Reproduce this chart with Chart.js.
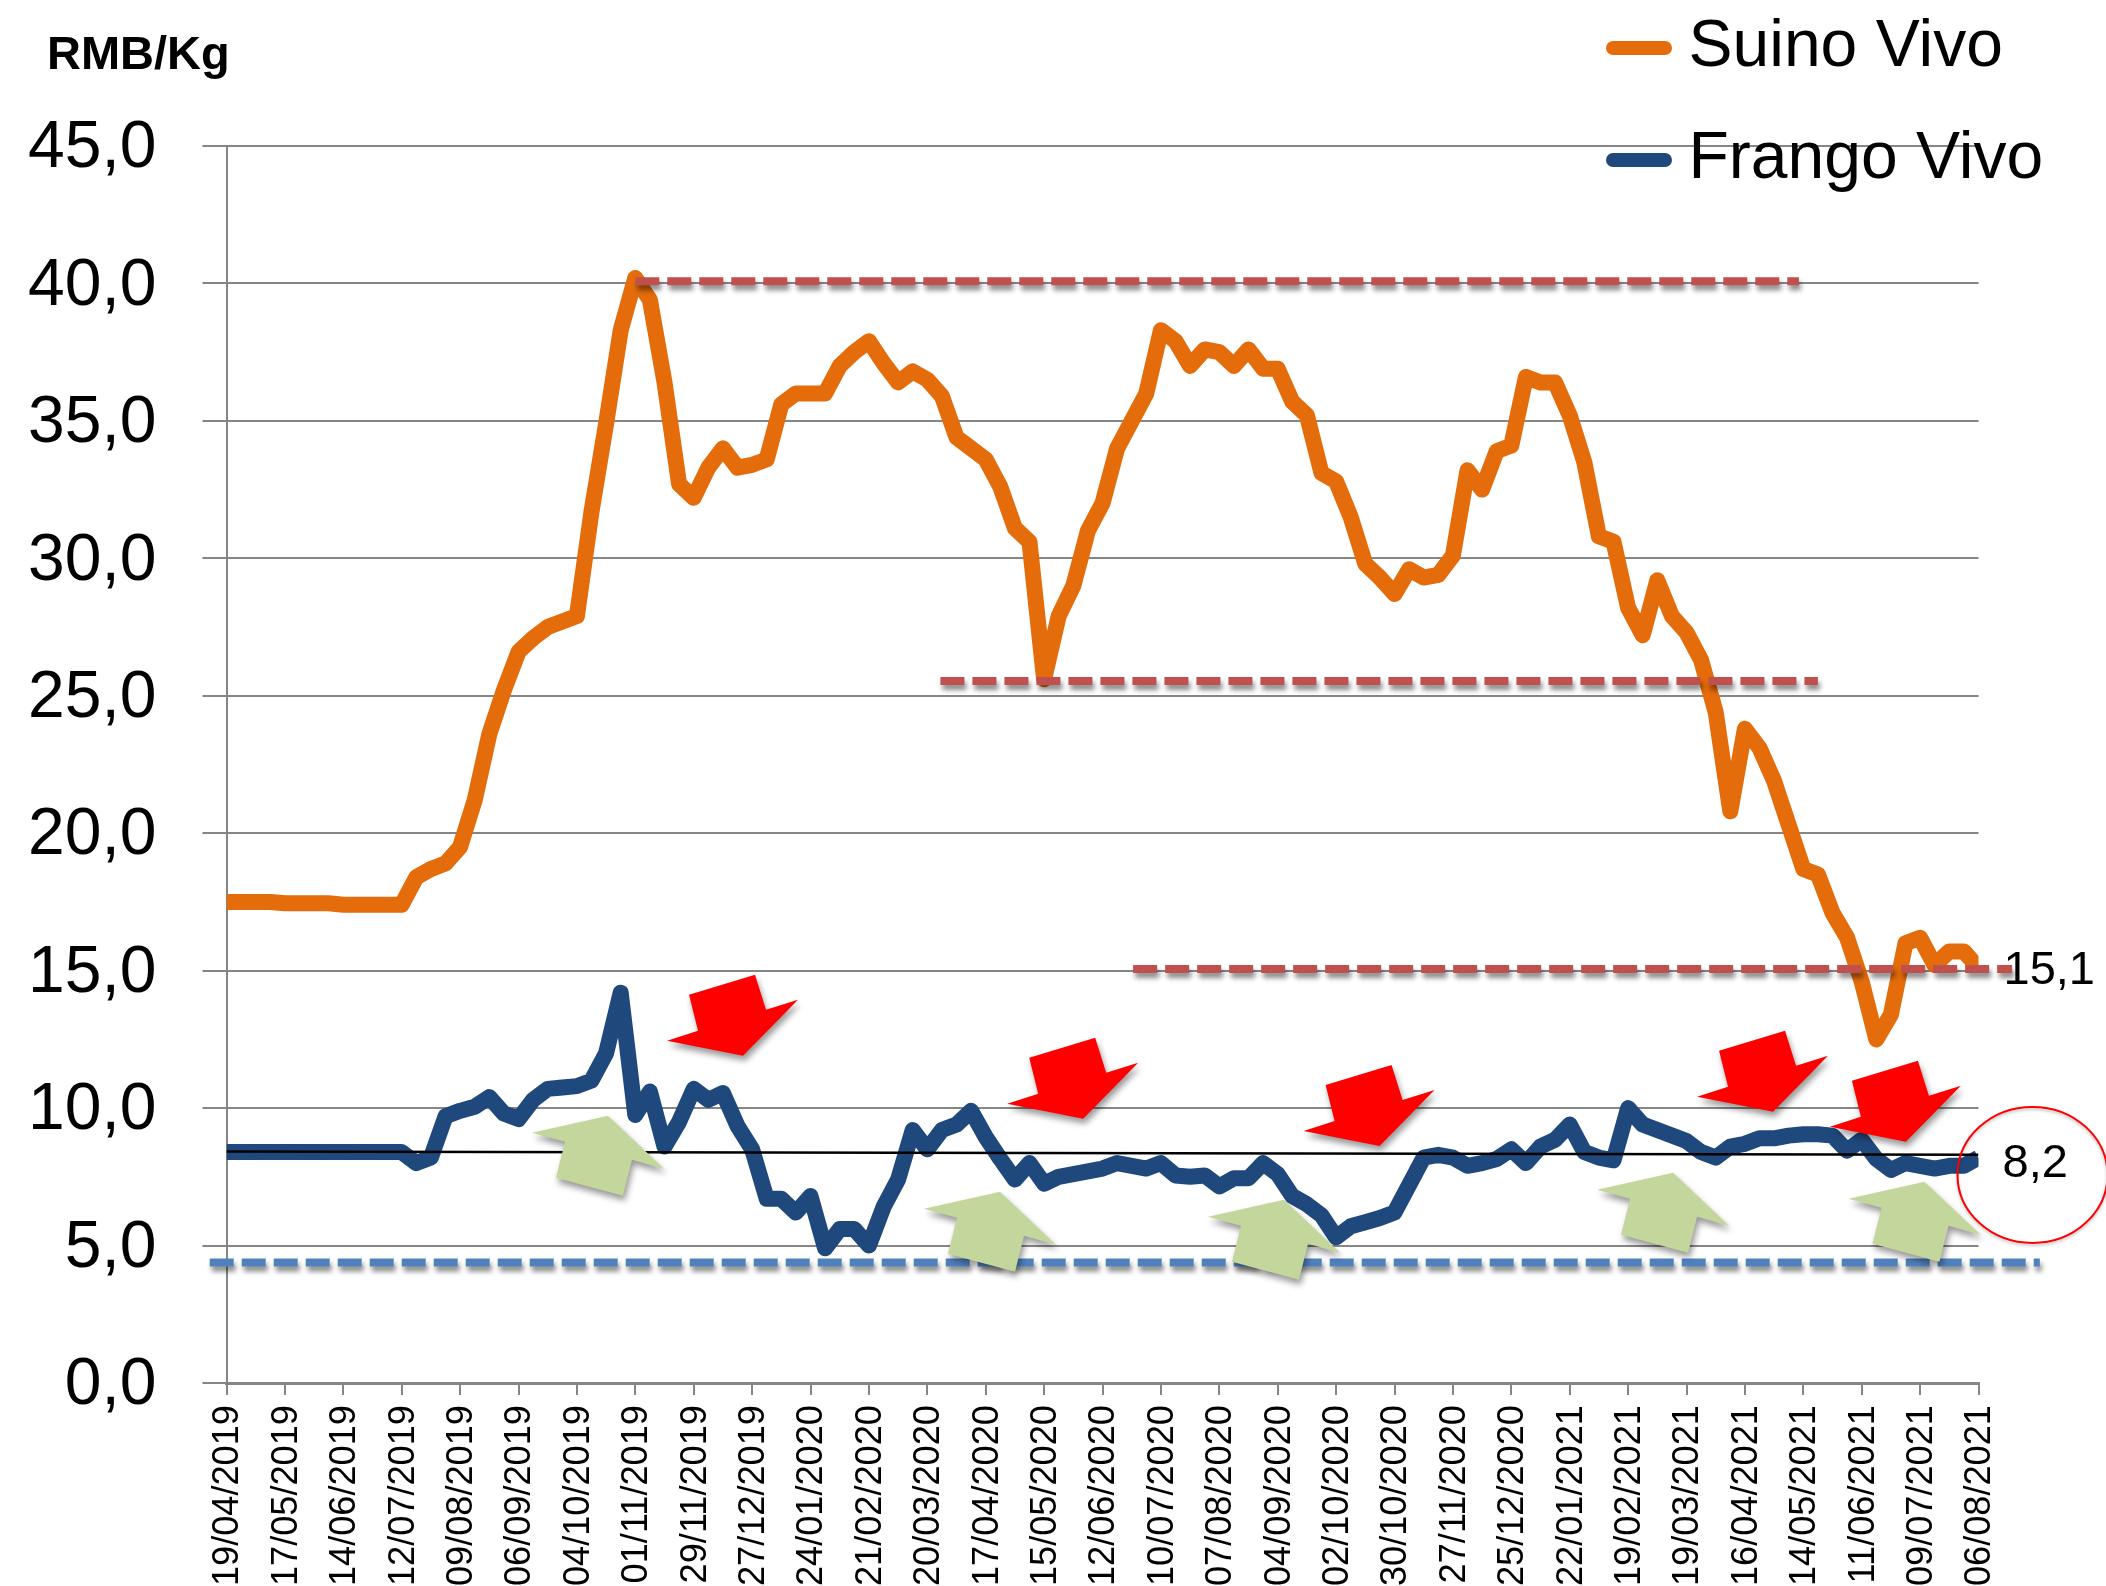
<!DOCTYPE html>
<html><head><meta charset="utf-8">
<style>html,body{margin:0;padding:0;background:#fff}canvas{display:block}</style>
<script src="https://cdn.jsdelivr.net/npm/chart.js@4/dist/chart.umd.js"></script>
</head><body><canvas id="c" width="2106" height="1586"></canvas>
<script>
const dateLabels=["19/04/2019","17/05/2019","14/06/2019","12/07/2019","09/08/2019","06/09/2019","04/10/2019","01/11/2019","29/11/2019","27/12/2019","24/01/2020","21/02/2020","20/03/2020","17/04/2020","15/05/2020","12/06/2020","10/07/2020","07/08/2020","04/09/2020","02/10/2020","30/10/2020","27/11/2020","25/12/2020","22/01/2021","19/02/2021","19/03/2021","16/04/2021","14/05/2021","11/06/2021","09/07/2021","06/08/2021"];
const suino=[17.5,17.5,17.5,17.5,17.45,17.45,17.45,17.45,17.4,17.4,17.4,17.4,17.4,18.4,18.7,18.9,19.5,21.2,23.6,25.2,26.6,27.1,27.5,27.7,27.9,31.7,34.9,38.3,40.2,39.4,36.4,32.7,32.2,33.3,34.0,33.3,33.4,33.6,35.6,36.0,36.0,36.0,37.0,37.5,37.9,37.1,36.4,36.8,36.5,35.9,34.4,34.0,33.6,32.6,31.1,30.6,25.6,27.9,29.0,31.0,32.0,34.0,35.0,36.0,38.3,37.9,37.0,37.6,37.5,37.0,37.6,36.9,36.9,35.7,35.2,33.1,32.8,31.5,29.8,29.3,28.7,29.6,29.3,29.4,30.1,33.2,32.5,33.9,34.1,36.6,36.4,36.4,35.2,33.5,30.8,30.6,28.2,27.2,29.2,27.9,27.3,26.3,24.4,20.8,23.8,23.1,21.9,20.3,18.7,18.5,17.1,16.2,14.6,12.5,13.4,16.0,16.2,15.2,15.7,15.7,15.1];
const frango=[8.4,8.4,8.4,8.4,8.4,8.4,8.4,8.4,8.4,8.4,8.4,8.4,8.4,8.0,8.2,9.7,9.9,10.05,10.4,9.8,9.6,10.3,10.7,10.75,10.8,11.0,12.0,14.2,9.75,10.6,8.6,9.5,10.7,10.3,10.55,9.35,8.5,6.7,6.7,6.2,6.8,4.9,5.6,5.6,5.0,6.4,7.4,9.2,8.5,9.2,9.4,9.9,8.95,8.15,7.4,8.0,7.25,7.5,7.6,7.7,7.8,8.0,7.9,7.8,8.0,7.55,7.5,7.55,7.15,7.45,7.45,8.0,7.6,6.8,6.5,6.1,5.3,5.7,5.85,6.0,6.2,7.2,8.2,8.3,8.2,7.9,8.0,8.15,8.5,8.0,8.6,8.85,9.4,8.4,8.2,8.1,10.0,9.4,9.2,9.0,8.8,8.4,8.2,8.6,8.7,8.9,8.9,9.0,9.05,9.05,9.0,8.45,8.85,8.15,7.75,8.0,7.9,7.8,7.9,7.9,8.2];
const yTicks=[0,5,10,15,20,25,30,35,40,45];
const trendWeeks=[0,120], trendValues=[8.42,8.3];
const resistWeeks=[28.0,107.7], resistValues=[40.08,40.08];
const midWeeks=[48.9,109.0], midValues=[25.54,25.54];
const lowWeeks=[62.1,122.3], lowValues=[15.06,15.06];
const floorWeeks=[-1.15,124.2], floorValues=[4.385,4.385];
const downArrowWeeks=[36.2,59.5,79.8,106.75,115.85], downArrowValues=[14.85,12.56,11.57,12.81,11.72];
const upArrowWeeks=[26.13,52.98,72.43,99.08,116.3], upArrowValues=[9.72,6.96,6.67,7.65,7.32];

const FONT='"Liberation Sans", Arial, sans-serif';
const toXY=(w,v)=>v.map((y,i)=>({x:w?w[i]:i,y}));
function pill(color){const c=document.createElement('canvas');c.width=66;c.height=14;const g=c.getContext('2d');g.strokeStyle=color;g.lineWidth=14;g.lineCap='round';g.beginPath();g.moveTo(7,7);g.lineTo(59,7);g.stroke();return c;}
const dashed=(label,w,v,color,order)=>({label,data:toXY(w,v),borderColor:color,backgroundColor:color,borderWidth:8,borderDash:[24,8],pointRadius:0,tension:0,clip:false,order,shadow:true});
const DOWN=[[0,0],[-66,20],[-57,56],[-88,66],[-12,81],[43,25],[11,35]];
const UP=[[0,0],[-76,17],[-43,26],[-52,62],[15,80],[24,44],[56,53]];

const deco={id:'deco',
 afterLayout(ch){const l=ch.legend;l.left=1576.5;l.right=2106;l.top=-31;l.bottom=300;
  const t=ch.titleBlock;t.left=47;},
 beforeDatasetDraw(ch,a){if(ch.data.datasets[a.index].shadow){const c=ch.ctx;c.save();c.shadowColor='rgba(0,0,0,0.45)';c.shadowBlur=5;c.shadowOffsetX=2;c.shadowOffsetY=5;}},
 afterDatasetDraw(ch,a){if(ch.data.datasets[a.index].shadow)ch.ctx.restore();},
 afterDatasetsDraw(ch){const c=ch.ctx,X=ch.scales.x,Y=ch.scales.y;
  const poly=(wk,val,shape,col)=>{const px=X.getPixelForValue(wk),py=Y.getPixelForValue(val);c.save();c.shadowColor='rgba(0,0,0,0.4)';c.shadowBlur=6;c.shadowOffsetX=2;c.shadowOffsetY=5;c.fillStyle=col;c.beginPath();shape.forEach((p,i)=>i?c.lineTo(px+p[0],py+p[1]):c.moveTo(px+p[0],py+p[1]));c.closePath();c.fill();c.restore();};
  upArrowWeeks.forEach((w,i)=>poly(w,upArrowValues[i],UP,'#C3D69B'));
  downArrowWeeks.forEach((w,i)=>poly(w,downArrowValues[i],DOWN,'#FF0000'));
  c.save();c.strokeStyle='#FF0000';c.lineWidth=2;c.shadowColor='rgba(0,0,0,0.25)';c.shadowBlur=3;c.shadowOffsetY=2;c.beginPath();c.ellipse(X.getPixelForValue(123.7),Y.getPixelForValue(7.57),75,68,0,0,Math.PI*2);c.stroke();c.restore();
  c.save();c.fillStyle='#000';c.font='47px '+FONT;c.textAlign='left';c.textBaseline='middle';
  const lx=X.getPixelForValue(120)+25;
  c.fillText(suino[120].toFixed(1).replace('.',','),lx,Y.getPixelForValue(suino[120])+3);
  c.fillText(frango[120].toFixed(1).replace('.',','),lx-1,Y.getPixelForValue(frango[120])+6);
  c.restore();
 }};

new Chart(document.getElementById('c'),{
 type:'line',
 data:{datasets:[
  {label:'Suino Vivo',data:toXY(null,suino),borderColor:'#E46C0A',backgroundColor:'#E46C0A',borderWidth:16,pointRadius:0,pointStyle:pill('#E46C0A'),tension:0,borderJoinStyle:'round',borderCapStyle:'butt',order:6},
  {label:'Frango Vivo',data:toXY(null,frango),borderColor:'#1F497D',backgroundColor:'#1F497D',borderWidth:16,pointRadius:0,pointStyle:pill('#1F497D'),tension:0,borderJoinStyle:'round',borderCapStyle:'butt',order:5},
  {label:'Tendência',data:toXY(trendWeeks,trendValues),borderColor:'#000',borderWidth:2.5,pointRadius:0,tension:0,order:0},
  dashed('Máximo',resistWeeks,resistValues,'#C0504D',1),
  dashed('Médio',midWeeks,midValues,'#C0504D',2),
  dashed('Atual',lowWeeks,lowValues,'#C0504D',3),
  dashed('Piso',floorWeeks,floorValues,'#4F81BD',4)
 ]},
 plugins:[deco],
 options:{responsive:false,animation:false,devicePixelRatio:1,
  layout:{padding:{top:0,right:127.5,bottom:0,left:0}},
  plugins:{
   tooltip:{enabled:false},
   title:{display:true,text:'RMB/Kg',align:'start',color:'#000',font:{family:FONT,size:47,weight:'bold',lineHeight:1.2},padding:{top:28,bottom:61.6}},
   legend:{display:true,position:'chartArea',align:'start',
    labels:{filter:i=>i.datasetIndex<2,sort:(a,b)=>a.datasetIndex-b.datasetIndex,usePointStyle:true,pointStyleWidth:33,boxHeight:14,padding:46,color:'#000',font:{family:FONT,size:66}}}
  },
  scales:{
   x:{type:'linear',min:0,max:120,offset:false,
    grid:{display:true,drawOnChartArea:false,drawTicks:true,tickLength:12,color:'#868686',lineWidth:2},
    border:{display:true,color:'#868686',width:3},
    ticks:{stepSize:4,autoSkip:false,maxRotation:90,minRotation:90,padding:10,labelOffset:2,color:'#000',font:{family:FONT,size:36.2},callback:v=>dateLabels[v/4]},
    afterFit(s){s.height=203;}},
   y:{min:0,max:45,offset:false,
    grid:{display:true,drawOnChartArea:true,drawTicks:true,tickLength:24,color:'#868686',lineWidth:2},
    border:{display:true,color:'#868686',width:2},
    afterBuildTicks(s){s.ticks=yTicks.map(v=>({value:v}));},
    ticks:{padding:46,labelOffset:3,color:'#000',font:{family:FONT,size:66},callback:v=>v.toFixed(1).replace('.',',')},
    afterFit(s){s.width=226.5;}}
  }}
});
</script></body></html>
